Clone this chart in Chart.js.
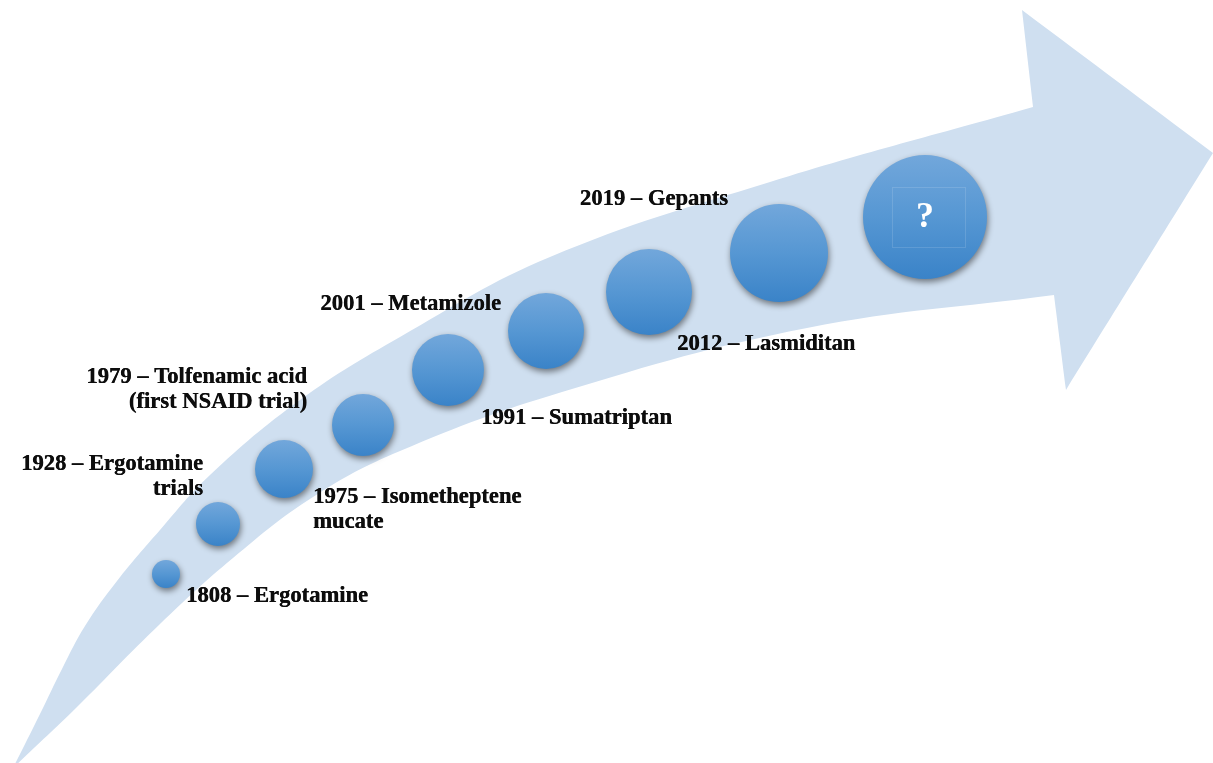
<!DOCTYPE html>
<html>
<head>
<meta charset="utf-8">
<script src="https://cdn.jsdelivr.net/npm/chart.js@4/dist/chart.umd.min.js"></script>
<style>
html,body{margin:0;padding:0;background:#ffffff;overflow:hidden}
canvas{display:block}
</style>
</head>
<body>
<canvas id="c" width="1213" height="763"></canvas>
<script>
// ---- DATA ----
const milestoneLabels = [
  '1808 – Ergotamine',
  '1928 – Ergotamine\ntrials',
  '1975 – Isometheptene\nmucate',
  '1979 – Tolfenamic acid\n(first NSAID trial)',
  '1991 – Sumatriptan',
  '2001 – Metamizole',
  '2012 – Lasmiditan',
  '2019 – Gepants',
  '?'
];
const bubbleX = [166, 218, 284, 363, 448, 546, 649, 779, 925];
const bubbleY = [574, 524, 469, 425, 370, 331, 292, 253, 217];
const bubbleR = [14, 22, 29, 31, 36, 38, 43, 49, 62];

// arrow outline (head, lower edge, tail, upper edge); repeated points = sharp corners
const arrowX = [1022, 1213, 1213, 1066, 1066, 1054, 1054, 807, 562, 400, 313, 233, 160, 77, 13, 13, 40, 62, 85, 117, 160, 210, 300, 400, 550, 770, 1033];
const arrowY = [10, 153, 153, 390, 390, 295, 295, 328, 392, 451, 497, 558, 624, 707, 768, 768, 714, 669, 626, 581, 530, 475, 400, 337, 257, 182, 107];

// ---- LAYOUT (label placement relative to each bubble) ----
const labelLayout = [
  {dx: 20, dy: 28, align: 'left'},
  {dx: -15, dy: -54, align: 'right'},
  {dx: 29, dy: 34, align: 'left'},
  {dx: -56, dy: -42, align: 'right'},
  {dx: 33, dy: 54, align: 'left'},
  {dx: -45, dy: -21, align: 'right'},
  {dx: 28, dy: 58, align: 'left'},
  {dx: -51, dy: -48, align: 'right'},
  {dx: 0, dy: 0, align: 'center'}
];

const bubbleShadow = {
  id: 'bubbleShadow',
  beforeDatasetDraw(chart, args) {
    if (args.meta.type !== 'bubble') return;
    const c = chart.ctx;
    c.save();
    c.shadowColor = 'rgba(30,30,30,0.55)';
    c.shadowBlur = 6;
    c.shadowOffsetX = 1;
    c.shadowOffsetY = 3;
  },
  afterDatasetDraw(chart, args) {
    if (args.meta.type !== 'bubble') return;
    chart.ctx.restore();
  }
};

const milestoneText = {
  id: 'milestoneText',
  afterDatasetsDraw(chart) {
    const meta = chart.getDatasetMeta(0);
    const c = chart.ctx;
    c.save();
    meta.data.forEach((el, i) => {
      const lay = labelLayout[i];
      const text = milestoneLabels[i];
      if (lay.align === 'center') {
        const r = bubbleR[i];
        c.strokeStyle = 'rgba(255,255,255,0.13)';
        c.lineWidth = 1;
        c.strokeRect(Math.round(el.x - r * 0.53) + 0.5, Math.round(el.y - r * 0.48) + 0.5, Math.round(r * 1.18), Math.round(r * 0.97));
        c.fillStyle = '#ffffff';
        c.font = 'bold 36px "Liberation Serif", "Times New Roman", serif';
        c.textAlign = 'center';
        c.textBaseline = 'middle';
        c.fillText(text, el.x, el.y + 1);
        return;
      }
      c.fillStyle = '#0d0d0d';
      c.font = 'bold 22.6px "Liberation Serif", "Times New Roman", serif';
      c.textAlign = lay.align;
      c.textBaseline = 'alphabetic';
      text.split('\n').forEach((line, k) => {
        const x = el.x + lay.dx, y = el.y + lay.dy + k * 25;
        c.fillText(line, x, y);
        c.fillText(line, x + 0.4, y);
      });
    });
    c.restore();
  }
};

function bubbleFill(ctx) {
  const fallback = '#4f91d1';
  if (ctx.type !== 'data' || !ctx.raw || !ctx.chart.scales || !ctx.chart.scales.y) return fallback;
  const cy = ctx.chart.scales.y.getPixelForValue(ctx.raw.y);
  const r = ctx.raw.r;
  if (!isFinite(cy) || !isFinite(r)) return fallback;
  const g = ctx.chart.ctx.createLinearGradient(0, cy - r, 0, cy + r);
  g.addColorStop(0, '#72a7db');
  g.addColorStop(0.5, '#5697d3');
  g.addColorStop(1, '#3a83c8');
  return g;
}

new Chart(document.getElementById('c'), {
  type: 'bubble',
  data: {
    datasets: [
      {
        type: 'bubble',
        order: 0,
        data: bubbleX.map((x, i) => ({x: x, y: bubbleY[i], r: bubbleR[i]})),
        borderWidth: 0,
        hoverBorderWidth: 0,
        backgroundColor: bubbleFill
      },
      {
        type: 'line',
        order: 1,
        data: arrowX.map((x, i) => ({x: x, y: arrowY[i]})),
        fill: 'shape',
        backgroundColor: '#cfdff0',
        borderColor: 'rgba(0,0,0,0)',
        borderWidth: 0,
        pointRadius: 0,
        pointHoverRadius: 0,
        tension: 0.4
      }
    ]
  },
  options: {
    responsive: false,
    animation: false,
    devicePixelRatio: 1,
    events: [],
    layout: {padding: 0, autoPadding: false},
    plugins: {legend: {display: false}, tooltip: {enabled: false}},
    scales: {
      x: {type: 'linear', display: false, min: 0, max: 1213},
      y: {type: 'linear', display: false, min: 0, max: 763, reverse: true}
    }
  },
  plugins: [bubbleShadow, milestoneText]
});
</script>
</body>
</html>
